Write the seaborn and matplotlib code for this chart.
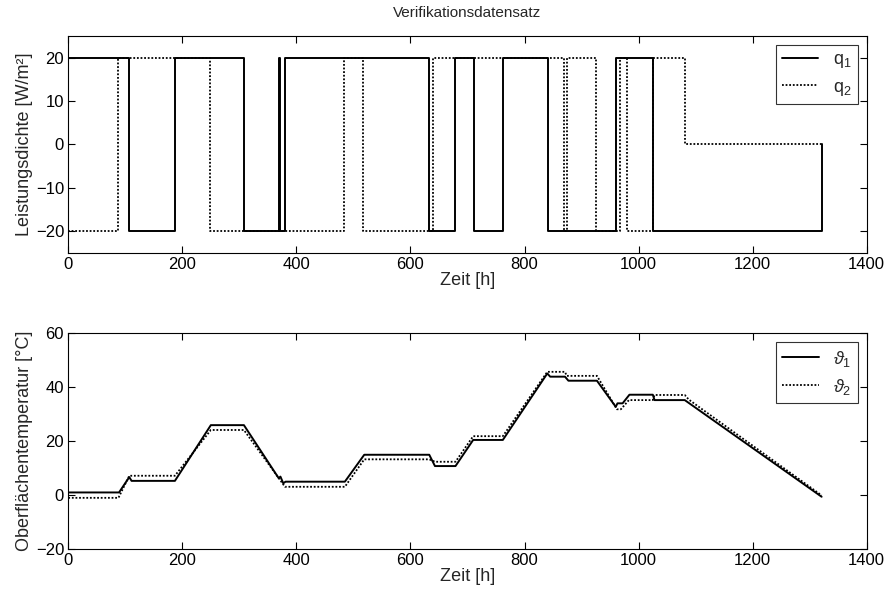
import matplotlib
matplotlib.use("Agg")
import matplotlib.pyplot as plt
import seaborn as sns
import pandas as pd

# --- data ---
q1_t = [0, 107, 187, 308, 369, 372, 380, 633, 679, 711, 762, 841, 960, 1025, 1321]
q1_v = [20, -20, 20, -20, 20, -20, 20, -20, 20, -20, 20, -20, 20, -20, 0]
q2_t = [0, 88, 249, 483, 517, 640, 869, 874, 926, 967, 979, 1025, 1081, 1321]
q2_v = [-20, 20, -20, 20, -20, 20, -20, 20, -20, 20, -20, 20, 0, 0]

th1_t = [0, 89, 107, 111, 187, 250, 308, 369, 372, 377, 381, 485, 519, 633, 643,
         679, 710, 762, 840, 845, 871, 877, 927, 960, 963, 972, 984, 1025, 1028, 1081, 1321]
th1_v = [0.9, 0.9, 6.6, 5.2, 5.2, 25.9, 25.9, 6.2, 6.8, 4.3, 4.9, 4.9, 14.9, 14.9, 10.7,
         10.7, 20.4, 20.4, 45.1, 43.9, 43.9, 42.4, 42.4, 32.7, 34.0, 34.0, 37.2, 37.2, 35.2, 35.2, -0.7]
th2_t = [0, 88, 107, 187, 250, 308, 380, 485, 519, 633, 643, 679, 710, 762, 840, 871,
         874, 927, 962, 969, 983, 1025, 1028, 1081, 1088, 1321]
th2_v = [-1.1, -1.1, 7.1, 7.1, 24.1, 24.1, 3.0, 3.0, 13.2, 13.2, 12.3, 12.3, 21.8, 21.8, 45.7, 45.7,
         44.2, 44.2, 31.8, 31.8, 35.2, 35.2, 37.1, 37.1, 35.4, -0.2]

title = "Verifikationsdatensatz"
xlab = "Zeit [h]"
ylab_top = "Leistungsdichte [W/m²]"
ylab_bot = "Oberflächentemperatur [°C]"

sns.set_style("ticks")
plt.rcParams["font.family"] = ["Liberation Sans", "DejaVu Sans"]
plt.rcParams["mathtext.fontset"] = "custom"
plt.rcParams["mathtext.rm"] = "Liberation Sans"
plt.rcParams["mathtext.it"] = "Liberation Sans:italic"
plt.rcParams["font.size"] = 12

fig = plt.figure(figsize=(8.9, 6.02), dpi=100)
ax1 = fig.add_axes([0.0767, 0.5804, 0.8971, 0.3596])
ax2 = fig.add_axes([0.0767, 0.0885, 0.8971, 0.3578])

dfq1 = pd.DataFrame({"t": q1_t, "v": q1_v})
dfq2 = pd.DataFrame({"t": q2_t, "v": q2_v})
sns.lineplot(data=dfq1, x="t", y="v", ax=ax1, sort=False, drawstyle="steps-post",
             color="black", lw=1.4, label="q$_1$")
sns.lineplot(data=dfq2, x="t", y="v", ax=ax1, sort=False, drawstyle="steps-post",
             color="black", lw=1.3, linestyle=(0, (1, 1)), label="q$_2$")

dft1 = pd.DataFrame({"t": th1_t, "v": th1_v})
dft2 = pd.DataFrame({"t": th2_t, "v": th2_v})
sns.lineplot(data=dft1, x="t", y="v", ax=ax2, sort=False,
             color="black", lw=1.4, label=r"$\vartheta_1$")
sns.lineplot(data=dft2, x="t", y="v", ax=ax2, sort=False,
             color="black", lw=1.3, linestyle=(0, (1, 1)), label=r"$\vartheta_2$")

ax1.set_xlim(0, 1400)
ax1.set_ylim(-25, 25)
ax1.set_yticks([-20, -10, 0, 10, 20])
ax2.set_xlim(0, 1400)
ax2.set_ylim(-20, 60)
ax2.set_yticks([-20, 0, 20, 40, 60])
for ax in (ax1, ax2):
    ax.set_xticks(range(0, 1401, 200))
    ax.tick_params(direction="in", top=True, right=True, length=5, width=0.8,
                   labelsize=12, colors="black", pad=3)
    for s in ax.spines.values():
        s.set_visible(True)
        s.set_color("black")
        s.set_linewidth(0.8)
    ax.set_xlabel(xlab, fontsize=13, labelpad=0)
    leg = ax.legend(loc="upper right", frameon=True, fancybox=False, fontsize=13,
                    borderaxespad=0.5, handlelength=2.0, labelspacing=0.45,
                    borderpad=0.35, handletextpad=0.8)
    leg.get_frame().set_edgecolor("black")
    leg.get_frame().set_linewidth(0.8)

ax1.set_ylabel(ylab_top, fontsize=13, labelpad=2)
ax2.set_ylabel(ylab_bot, fontsize=13, labelpad=2)
ax1.set_title(title, fontsize=11, pad=14)

fig.savefig("out.png", dpi=100)
